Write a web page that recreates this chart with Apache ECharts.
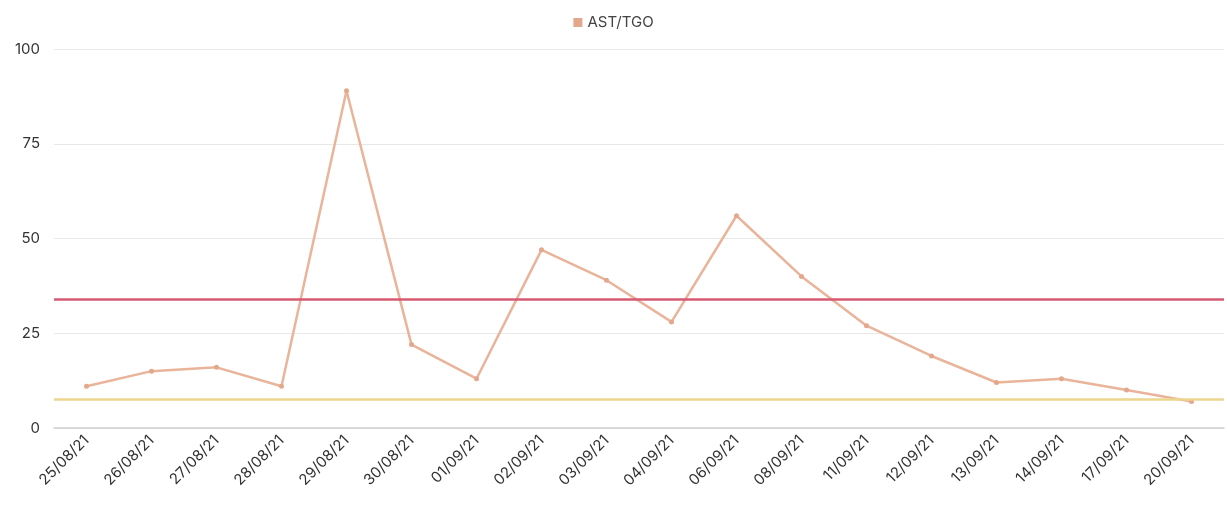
<!DOCTYPE html>
<html>
<head>
<meta charset="utf-8">
<script src="https://cdn.jsdelivr.net/npm/echarts@6/dist/echarts.min.js"></script>
<style>
    html, body { margin: 0; padding: 0; background: #fff; }
    #main { width: 1227px; height: 508px; }
</style>
</head>
<body>
<div id="main"></div>
<script>
// fechas de los análisis
const dates = ['25/08/21', '26/08/21', '27/08/21', '28/08/21', '29/08/21', '30/08/21', '01/09/21', '02/09/21', '03/09/21',
    '04/09/21', '06/09/21', '08/09/21', '11/09/21', '12/09/21', '13/09/21', '14/09/21', '17/09/21', '20/09/21']
const astValues = [11, 15, 16, 11, 89, 22, 13, 47, 39, 28, 56, 40, 27, 19, 12, 13, 10, 7]
// limite superior / inferior
const upperLimit = [34]
const lowerLimit = [7.7]
const yTicks = [0, 25, 50, 75, 100]

const myChart = echarts.init(document.getElementById('main'))
const font = 'Inter, "Noto Sans", sans-serif'

const option = {
    animation: false,
    textStyle: { fontFamily: font },
    legend: {
        top: 10,
        left: 'center',
        icon: 'rect',
        itemWidth: 9,
        itemHeight: 9,
        textStyle: { color: '#444', fontSize: 15, fontFamily: font },
        data: ['AST/TGO']
    },
    grid: { left: 54, right: 3, top: 49, bottom: 80, containLabel: false },
    xAxis: {
        type: 'category',
        data: dates,
        axisLine: { lineStyle: { color: '#cfcfcf', width: 1.5 } },
        axisTick: { show: false },
        axisLabel: { rotate: 45, color: '#333', fontSize: 15, margin: 10, fontFamily: font, interval: 0 }
    },
    yAxis: {
        type: 'value',
        min: yTicks[0],
        max: yTicks[yTicks.length - 1],
        interval: 25,
        axisLine: { show: false },
        axisTick: { show: false },
        axisLabel: { color: '#333', fontSize: 15, margin: 14, fontFamily: font },
        splitLine: { lineStyle: { color: '#e8e8e8' } }
    },
    series: [
        {
            name: 'AST/TGO',
            type: 'line',
            data: astValues,
            color: '#e8b298',
            symbol: 'circle',
            symbolSize: 5,
            lineStyle: { width: 2.5, color: '#e9b49a' },
            itemStyle: { color: '#e3a78b' },
            markLine: {
                silent: true,
                symbol: 'none',
                label: { show: false },
                data: [
                    { yAxis: upperLimit[0], lineStyle: { color: '#d65a72', width: 2.5, type: 'solid' } },
                    { yAxis: lowerLimit[0], lineStyle: { color: '#ecd68f', width: 2.5, type: 'solid' } }
                ]
            }
        }
    ]
}
myChart.setOption(option)
</script>
</body>
</html>
